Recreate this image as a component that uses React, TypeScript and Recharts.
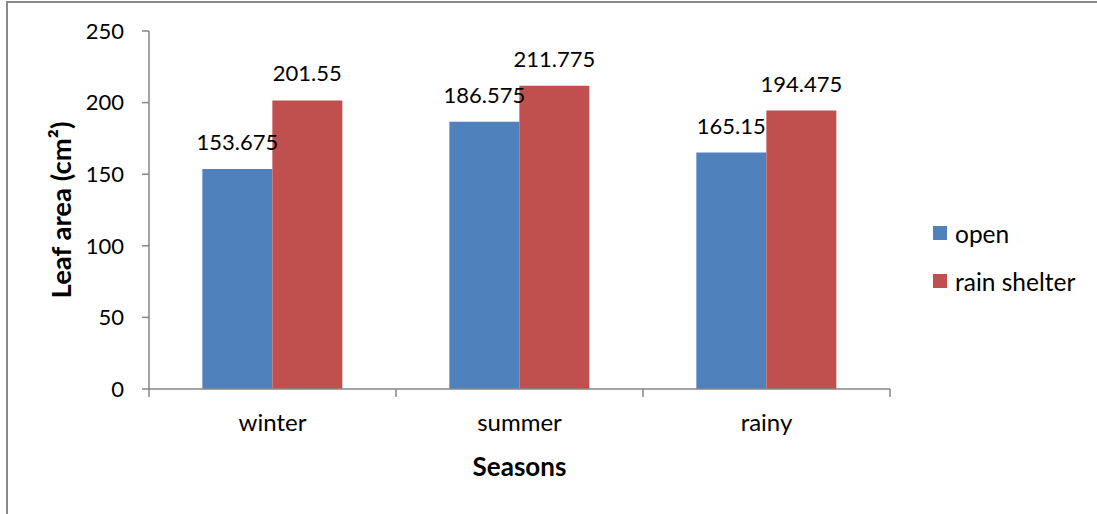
import React from "react";
import { BarChart, Bar, XAxis, YAxis, Legend, LabelList, Label } from "recharts";

// Leaf area by season, open field vs. rain shelter
const seasons = ["winter", "summer", "rainy"];
const openValues = [153.675, 186.575, 165.15];
const shelterValues = [201.55, 211.775, 194.475];
const yTicks = [0, 50, 100, 150, 200, 250];
const seriesNames = ["open", "rain shelter"];
const seriesColors = ["#4F81BD", "#C0504D"];

const data = seasons.map((season, i) => ({
  season,
  open: openValues[i],
  shelter: shelterValues[i],
}));

const FONT = "Lato, 'Open Sans', sans-serif";
const AXIS = "#868686";
const TICK_SIZE = 8;
const TICK_MARGIN = 18;

// Category tick: label at band centre, tick marks at band boundaries
const CategoryTick = (props: any) => {
  const { x, y, payload, index } = props;
  const half = payload?.offset ?? 0;
  const axisY = y - TICK_SIZE - TICK_MARGIN;
  return (
    <g>
      <line x1={x - half} x2={x - half} y1={axisY} y2={axisY + TICK_SIZE} stroke={AXIS} strokeWidth={1.5} />
      {index === seasons.length - 1 && (
        <line x1={x + half} x2={x + half} y1={axisY} y2={axisY + TICK_SIZE} stroke={AXIS} strokeWidth={1.5} />
      )}
      <text x={x} y={y} dy={16} textAnchor="middle" fontFamily={FONT} fontSize={24} fill="#000">
        {payload.value}
      </text>
    </g>
  );
};

const LegendContent = () => (
  <div style={{ fontFamily: FONT, fontSize: 24.5, color: "#000" }}>
    {seriesNames.map((name, i) => (
      <div key={name} style={{ height: 48, display: "flex", alignItems: "center" }}>
        <span style={{ width: 14, height: 14, background: seriesColors[i], display: "inline-block", marginRight: 8 }} />
        <span>{name}</span>
      </div>
    ))}
  </div>
);

export default function App() {
  return (
    <div style={{ position: "absolute", left: 0, top: 0, width: 1097, height: 514, overflow: "hidden", background: "#fff" }}>
      <div
        style={{
          position: "absolute",
          left: 6,
          top: 1,
          width: 1100,
          height: 520,
          borderLeft: "2px solid #8a8a8a",
          borderTop: "2px solid #8a8a8a",
        }}
      />
      <BarChart
        width={1097}
        height={514}
        data={data}
        margin={{ top: 31, right: 57, bottom: 65, left: 0 }}
        barCategoryGap="21.6%"
        barGap={0}
      >
        <XAxis
          dataKey="season"
          height={60}
          stroke={AXIS}
          strokeWidth={1.5}
          tickLine={false}
          tickSize={TICK_SIZE}
          tickMargin={TICK_MARGIN}
          tick={<CategoryTick />}
          interval={0}
        >
          <Label
            content={(p: any) => {
              const vb = p.viewBox;
              return (
                <text x={vb.x + vb.width / 2} y={vb.y + 87} textAnchor="middle" fontFamily={FONT} fontSize={26} fontWeight="bold" fill="#000">
                  Seasons
                </text>
              );
            }}
          />
        </XAxis>
        <YAxis
          width={149}
          domain={[0, 250]}
          ticks={yTicks}
          interval={0}
          stroke={AXIS}
          strokeWidth={1.5}
          tickSize={7}
          tickMargin={18}
          tick={{ fill: "#000", fontSize: 22, fontFamily: FONT }}
        >
          <Label
            content={(p: any) => {
              const vb = p.viewBox;
              const cx = vb.x + 60;
              const cy = vb.y + vb.height / 2;
              return (
                <text
                  x={cx}
                  y={cy}
                  transform={`rotate(-90, ${cx}, ${cy})`}
                  textAnchor="middle"
                  dominantBaseline="central"
                  fontFamily={FONT}
                  fontSize={27.5}
                  fontWeight="bold"
                  fill="#000"
                >
                  Leaf area (cm²)
                </text>
              );
            }}
          />
        </YAxis>
        <Legend
          layout="vertical"
          verticalAlign="middle"
          align="right"
          content={<LegendContent />}
          wrapperStyle={{ left: 933, top: 209, width: 150 }}
        />
        <Bar dataKey="open" name={seriesNames[0]} fill={seriesColors[0]} isAnimationActive={false}>
          <LabelList dataKey="open" position="top" offset={19} fill="#000" fontSize={22} fontFamily={FONT} />
        </Bar>
        <Bar dataKey="shelter" name={seriesNames[1]} fill={seriesColors[1]} isAnimationActive={false}>
          <LabelList dataKey="shelter" position="top" offset={19} fill="#000" fontSize={22} fontFamily={FONT} />
        </Bar>
      </BarChart>
    </div>
  );
}
